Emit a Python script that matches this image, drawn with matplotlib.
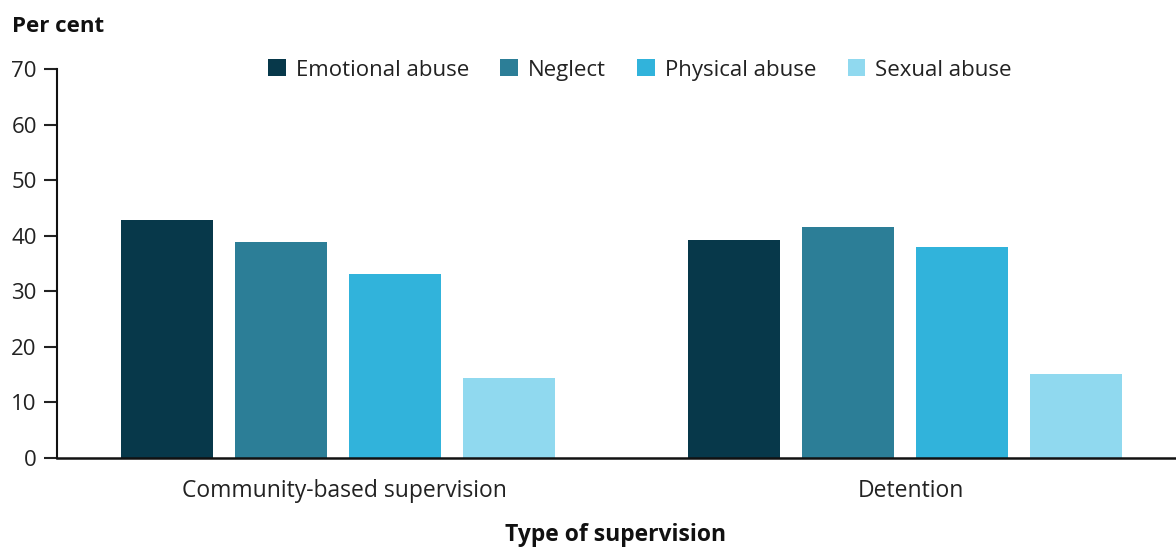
import matplotlib
matplotlib.use("Agg")
import matplotlib.pyplot as plt
import matplotlib.transforms as mtransforms
import numpy as np

plt.rcParams['font.family'] = ['Open Sans', 'DejaVu Sans']

categories = ["Community-based supervision", "Detention"]
series = ["Emotional abuse", "Neglect", "Physical abuse", "Sexual abuse"]
emotional = [42.8, 39.2]
neglect = [38.9, 41.6]
physical = [33.1, 38.0]
sexual = [14.4, 15.1]
values = [emotional, neglect, physical, sexual]
colors = ["#07384A", "#2C7E97", "#31B3DB", "#90D9EF"]
yticks = [0, 10, 20, 30, 40, 50, 60, 70]

fig = plt.figure(figsize=(11.76, 5.48), dpi=100)
ax = fig.add_axes([57/1176, 90/548, 1 - 57/1176, (458-69)/548])

x = np.arange(len(categories))
width = 0.162
step = 0.201
offsets = (np.arange(len(series)) - 1.5) * step
for i, (name, vals) in enumerate(zip(series, values)):
    ax.bar(x + offsets[i], vals, width, color=colors[i], label=name, zorder=2)

ax.set_xlim(-0.496, 1.478)
ax.set_ylim(0, 70)
ax.set_yticks(yticks)
ax.set_xticks(x)
ax.set_xticklabels(categories, fontsize=16.5, color="#222222")
ax.tick_params(axis='x', length=0, pad=15)
ax.tick_params(axis='y', length=9.5, width=1.5, labelsize=16, colors="#222222", pad=5)
shift = mtransforms.ScaledTranslation(6/100, 0, fig.dpi_scale_trans)
for lbl in ax.get_xticklabels():
    lbl.set_transform(lbl.get_transform() + shift)
for s in ["top", "right"]:
    ax.spines[s].set_visible(False)
ax.spines["left"].set_linewidth(1.5)
ax.spines["bottom"].set_linewidth(1.8)
ax.spines["left"].set_color("#111111")
ax.spines["bottom"].set_color("#111111")

fig.text(12/1176, 1 - 27/548, "Per cent", fontsize=16, fontweight="bold", va="center", ha="left", color="#111111")
fig.text(616/1176, 1 - 535/548, "Type of supervision", fontsize=16.5, fontweight="bold", va="center", ha="center", color="#111111")

leg = fig.legend(loc="center", bbox_to_anchor=(640/1176, 1 - 70/548), ncol=4, frameon=False,
                 fontsize=16, handlelength=0.8, handleheight=0.8, handletextpad=0.45, columnspacing=1.4)
for t in leg.get_texts():
    t.set_color("#222222")

fig.savefig("out.png", dpi=100)
